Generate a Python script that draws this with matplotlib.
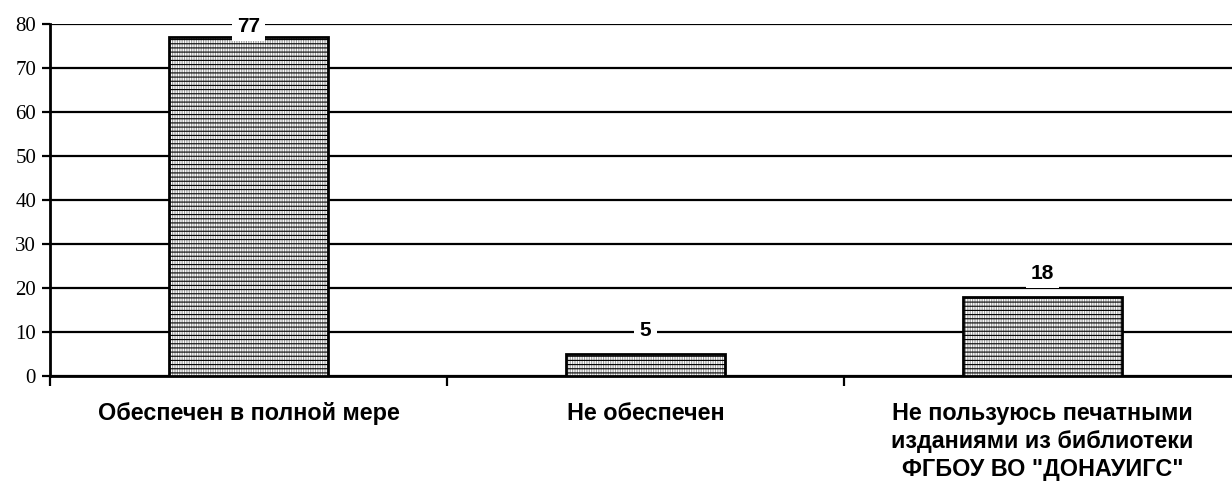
import matplotlib
matplotlib.use("Agg")
import matplotlib.pyplot as plt

categories = ["Обеспечен в полной мере",
              "Не обеспечен",
              "Не пользуюсь печатными\nизданиями из библиотеки\nФГБОУ ВО \"ДОНАУИГС\""]
values = [77, 5, 18]
y_ticks = [0, 10, 20, 30, 40, 50, 60, 70, 80]

plt.rcParams["hatch.linewidth"] = 0.8

fig = plt.figure(figsize=(12.32, 4.84), dpi=100)
ax = fig.add_axes([50 / 1232, 108 / 484, 1191 / 1232, 352 / 484])

x = list(range(len(categories)))
# fill: grey vertical hatch, black horizontal hatch, then the black outline
ax.bar(x, values, width=0.4, color="white", edgecolor="#9a9a9a", linewidth=0,
       hatch="|||||||", zorder=3)
ax.bar(x, values, width=0.4, fill=False, edgecolor="black", linewidth=0,
       hatch="----", zorder=3.1)
ax.bar(x, values, width=0.4, fill=False, edgecolor="black", linewidth=2, zorder=3.2)

# value labels: sit above the bar, clipped to the top of the plot
for i, v in zip(x, values):
    ty = min(v + 5.7, y_ticks[-1])
    ax.text(i, ty, f"{v}", ha="center", va="center_baseline", fontsize=15,
            fontweight="bold", family="Liberation Sans", zorder=5,
            bbox=dict(boxstyle="square,pad=0.25", facecolor="white", edgecolor="none"))

ax.set_xlim(-0.5, len(categories) - 0.5)
ax.set_ylim(0, 80)
ax.set_yticks(y_ticks)
ax.set_yticklabels([str(t) for t in y_ticks], family="Liberation Serif", fontsize=15)
ax.yaxis.grid(True, color="black", linewidth=1.6, zorder=0)
ax.set_axisbelow(True)

# category boundaries as ticks, labels at centres
ax.set_xticks([i - 0.5 for i in range(len(categories) + 1)])
ax.set_xticklabels([])
ax.set_xticks(x, minor=True)
ax.set_xticklabels(categories, minor=True, fontsize=16.8, fontweight="bold",
                   family="Liberation Sans", va="top", linespacing=1.27)
ax.tick_params(axis="x", which="minor", length=0, pad=19)
ax.tick_params(axis="x", which="major", length=7, width=1.6, direction="out")
ax.tick_params(axis="y", length=6, width=1.6, direction="out", pad=4)

for s in ("top", "right"):
    ax.spines[s].set_visible(False)
ax.spines["left"].set_linewidth(2)
ax.spines["bottom"].set_linewidth(2)

fig.savefig("out.png", dpi=100)
